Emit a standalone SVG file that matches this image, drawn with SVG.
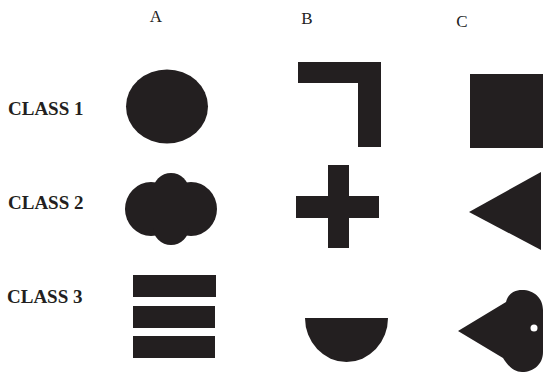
<svg xmlns="http://www.w3.org/2000/svg" width="545" height="374" viewBox="0 0 545 374">
<style>
.col{font-family:"Liberation Serif","Times New Roman",serif;font-size:17px;fill:#222;text-anchor:middle}
.cls{font-family:"Liberation Serif","Times New Roman",serif;font-size:19px;font-weight:bold;fill:#231f20}
.sh{fill:#231f20}
</style>
<rect width="545" height="374" fill="#fff"/>
<g id="headers">
<text class="col" x="156" y="22">A</text>
<text class="col" x="307" y="24">B</text>
<text class="col" x="462" y="27">C</text>
</g>
<g id="class-labels">
<text class="cls" x="8" y="115">CLASS 1</text>
<text class="cls" x="8" y="209">CLASS 2</text>
<text class="cls" x="7" y="303">CLASS 3</text>
</g>
<g id="A1"><ellipse class="sh" cx="167" cy="106.5" rx="41" ry="37"/></g>
<g id="B1"><polygon class="sh" points="298,62 381,62 381,147 358,147 358,83 298,83"/></g>
<g id="C1"><rect class="sh" x="470" y="74" width="73" height="74"/></g>
<g id="A2">
<ellipse class="sh" cx="151" cy="209" rx="26" ry="27"/>
<ellipse class="sh" cx="191" cy="209" rx="26" ry="27"/>
<circle class="sh" cx="171" cy="191" r="18"/>
<circle class="sh" cx="171" cy="227" r="18"/>
<rect class="sh" x="150" y="190" width="42" height="38"/>
</g>
<g id="B2">
<rect class="sh" x="328" y="165" width="21" height="83"/>
<rect class="sh" x="296" y="196" width="83" height="22"/>
</g>
<g id="C2"><polygon class="sh" points="469,212 541,172 541,250"/></g>
<g id="A3">
<rect class="sh" x="133" y="275" width="83" height="22"/>
<rect class="sh" x="133" y="306" width="82" height="22"/>
<rect class="sh" x="133" y="336" width="82" height="22"/>
</g>
<g id="B3"><path class="sh" d="M305,318 L388,318 A41.5,44 0 0 1 305,318 Z"/></g>
<g id="C3">
<path class="sh" d="M458,331 L506,302 C508,294 514,290 522,290 C534,290 543,298 543,310 L543,352 C543,364 534,372 522,372 C514,372 508,366 503,358 Z"/>
<circle cx="534" cy="328" r="3.5" fill="#fff"/>
</g>
<g id="connectors"/>
</svg>
